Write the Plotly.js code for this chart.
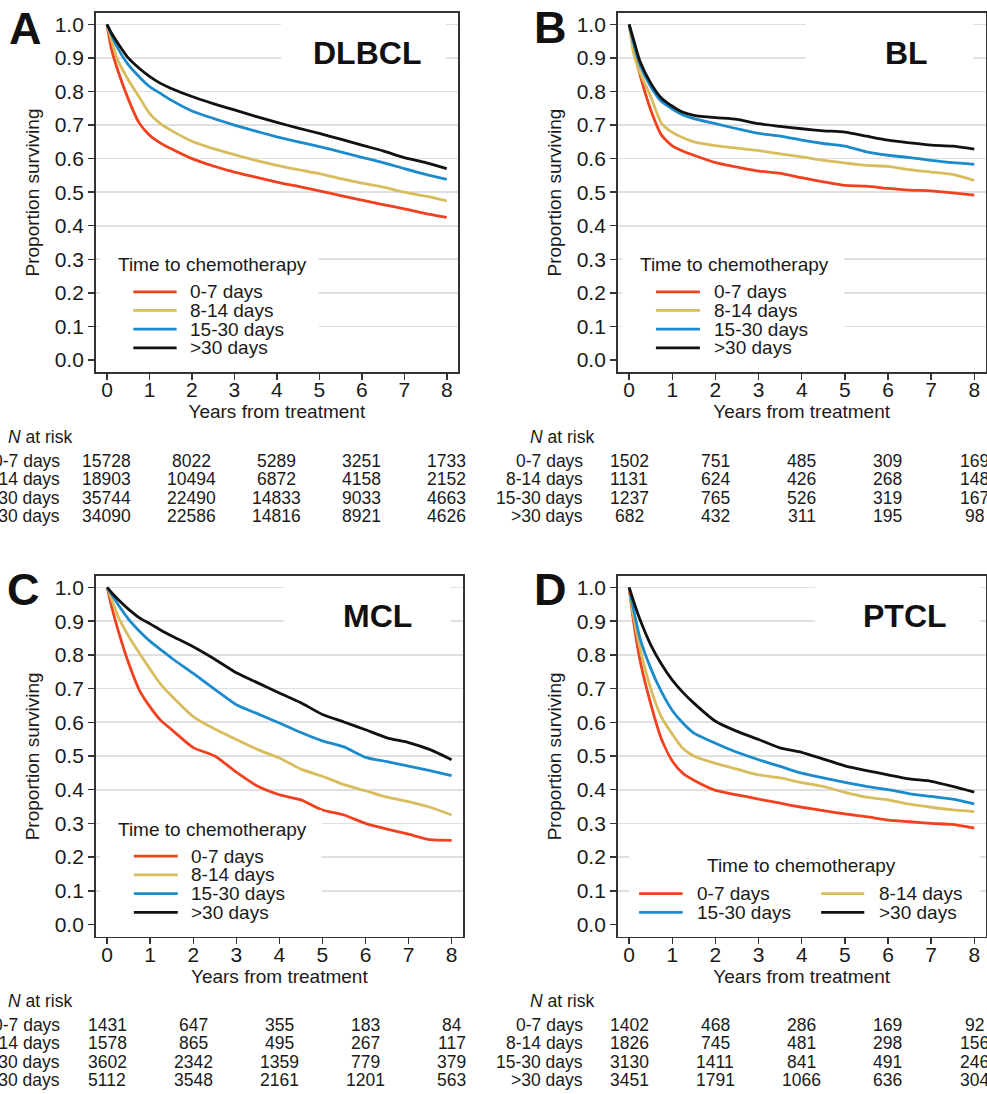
<!DOCTYPE html>
<html>
<head>
<meta charset="utf-8">
<script src="https://cdn.plot.ly/plotly-3.0.1.min.js"></script>
<style>
html, body { margin: 0; padding: 0; background: #ffffff; }
#chart { width: 987px; height: 1094px; }
</style>
</head>
<body>
<div id="chart"></div>
<script>
// ---------------- DATA ----------------
const years = [0, 0.1, 0.25, 0.5, 0.75, 1, 1.25, 1.5, 2, 2.5, 3, 3.5, 4, 4.5, 5, 5.5, 6, 6.5, 7, 7.5, 8];
const groupLabels = ['0-7 days', '8-14 days', '15-30 days', '>30 days'];
const riskYears = [0, 2, 4, 6, 8];

// A: DLBCL
const dlbcl_0to7   = [1, 0.93, 0.865, 0.778, 0.708, 0.670, 0.647, 0.630, 0.600, 0.578, 0.560, 0.545, 0.530, 0.517, 0.504, 0.490, 0.476, 0.463, 0.450, 0.436, 0.425];
const dlbcl_8to14  = [1, 0.955, 0.895, 0.835, 0.785, 0.735, 0.705, 0.685, 0.652, 0.630, 0.612, 0.595, 0.580, 0.567, 0.555, 0.540, 0.527, 0.515, 0.500, 0.488, 0.474];
const dlbcl_15to30 = [1, 0.97, 0.93, 0.88, 0.845, 0.815, 0.795, 0.775, 0.742, 0.720, 0.700, 0.682, 0.665, 0.650, 0.636, 0.620, 0.604, 0.588, 0.570, 0.553, 0.538];
const dlbcl_over30 = [1, 0.975, 0.945, 0.90, 0.870, 0.845, 0.825, 0.810, 0.785, 0.764, 0.745, 0.726, 0.708, 0.691, 0.675, 0.658, 0.640, 0.623, 0.603, 0.588, 0.570];
const dlbclRisk_0to7   = [15728, 8022, 5289, 3251, 1733];
const dlbclRisk_8to14  = [18903, 10494, 6872, 4158, 2152];
const dlbclRisk_15to30 = [35744, 22490, 14833, 9033, 4663];
const dlbclRisk_over30 = [34090, 22586, 14816, 8921, 4626];

// B: BL
const bl_0to7   = [1, 0.93, 0.85, 0.745, 0.67, 0.638, 0.622, 0.610, 0.588, 0.575, 0.563, 0.556, 0.543, 0.531, 0.520, 0.518, 0.511, 0.506, 0.504, 0.498, 0.491];
const bl_8to14  = [1, 0.915, 0.857, 0.785, 0.705, 0.678, 0.662, 0.650, 0.639, 0.631, 0.624, 0.614, 0.605, 0.595, 0.587, 0.580, 0.577, 0.567, 0.560, 0.553, 0.535];
const bl_15to30 = [1, 0.945, 0.88, 0.815, 0.77, 0.748, 0.730, 0.719, 0.704, 0.689, 0.675, 0.667, 0.655, 0.645, 0.637, 0.620, 0.610, 0.603, 0.595, 0.588, 0.583];
const bl_over30 = [1, 0.955, 0.89, 0.825, 0.78, 0.756, 0.738, 0.729, 0.722, 0.717, 0.704, 0.696, 0.689, 0.683, 0.679, 0.667, 0.655, 0.647, 0.640, 0.637, 0.628];
const blRisk_0to7   = [1502, 751, 485, 309, 169];
const blRisk_8to14  = [1131, 624, 426, 268, 148];
const blRisk_15to30 = [1237, 765, 526, 319, 167];
const blRisk_over30 = [682, 432, 311, 195, 98];

// C: MCL
const mcl_0to7   = [1, 0.945, 0.875, 0.775, 0.695, 0.645, 0.605, 0.578, 0.525, 0.500, 0.452, 0.410, 0.385, 0.370, 0.340, 0.325, 0.300, 0.283, 0.268, 0.252, 0.250];
const mcl_8to14  = [1, 0.965, 0.915, 0.855, 0.805, 0.757, 0.712, 0.678, 0.617, 0.580, 0.549, 0.519, 0.494, 0.461, 0.440, 0.415, 0.397, 0.378, 0.365, 0.348, 0.325];
const mcl_15to30 = [1, 0.98, 0.95, 0.905, 0.87, 0.840, 0.815, 0.790, 0.745, 0.698, 0.652, 0.625, 0.598, 0.570, 0.545, 0.527, 0.496, 0.483, 0.470, 0.457, 0.442];
const mcl_over30 = [1, 0.985, 0.965, 0.935, 0.91, 0.892, 0.873, 0.856, 0.824, 0.787, 0.747, 0.717, 0.687, 0.658, 0.623, 0.601, 0.578, 0.554, 0.540, 0.519, 0.489];
const mclRisk_0to7   = [1431, 647, 355, 183, 84];
const mclRisk_8to14  = [1578, 865, 495, 267, 117];
const mclRisk_15to30 = [3602, 2342, 1359, 779, 379];
const mclRisk_over30 = [5112, 3548, 2161, 1201, 563];

// D: PTCL
const ptcl_0to7   = [1, 0.90, 0.785, 0.655, 0.55, 0.485, 0.448, 0.428, 0.398, 0.385, 0.372, 0.360, 0.348, 0.338, 0.328, 0.320, 0.310, 0.305, 0.300, 0.297, 0.286];
const ptcl_8to14  = [1, 0.915, 0.82, 0.70, 0.615, 0.565, 0.522, 0.500, 0.478, 0.461, 0.444, 0.435, 0.421, 0.410, 0.392, 0.378, 0.370, 0.357, 0.348, 0.340, 0.335];
const ptcl_15to30 = [1, 0.935, 0.85, 0.76, 0.69, 0.635, 0.597, 0.568, 0.538, 0.511, 0.489, 0.469, 0.449, 0.435, 0.422, 0.410, 0.400, 0.388, 0.380, 0.372, 0.358];
const ptcl_over30 = [1, 0.96, 0.905, 0.83, 0.772, 0.725, 0.688, 0.657, 0.603, 0.573, 0.549, 0.524, 0.511, 0.491, 0.471, 0.457, 0.444, 0.432, 0.425, 0.410, 0.393];
const ptclRisk_0to7   = [1402, 468, 286, 169, 92];
const ptclRisk_8to14  = [1826, 745, 481, 298, 156];
const ptclRisk_15to30 = [3130, 1411, 841, 491, 246];
const ptclRisk_over30 = [3451, 1791, 1066, 636, 304];

// ---------------- STYLE / LAYOUT ----------------
const W = 987, H = 1094;
const FONT = 'Liberation Sans, Arial, Helvetica, sans-serif';
const TABLE_SIZE = 17.5;
const seriesColors = ['#f2411f', '#d9bc5d', '#1b8bcb', '#111111'];
const TXT = '#1a1a1a';
const XR = [-0.266, 8.265];

const panels = [
  { letter: 'A', name: 'DLBCL', surv: [dlbcl_0to7, dlbcl_8to14, dlbcl_15to30, dlbcl_over30],
    risk: [dlbclRisk_0to7, dlbclRisk_8to14, dlbclRisk_15to30, dlbclRisk_over30],
    frameX: [95.7, 458], frameY: [13, 372], letterPos: [25.5, 29], nameX: 6.13, nameY: 0.914,
    twoCol: false, tableTop: 437, rowRight: 62, nLeft: 6 },
  { letter: 'B', name: 'BL', surv: [bl_0to7, bl_8to14, bl_15to30, bl_over30],
    risk: [blRisk_0to7, blRisk_8to14, blRisk_15to30, blRisk_over30],
    frameX: [617.7, 985.7], frameY: [13, 372], letterPos: [550, 27], nameX: 6.44, nameY: 0.914,
    twoCol: false, tableTop: 437, rowRight: 585, nLeft: 528 },
  { letter: 'C', name: 'MCL', surv: [mcl_0to7, mcl_8to14, mcl_15to30, mcl_over30],
    risk: [mclRisk_0to7, mclRisk_8to14, mclRisk_15to30, mclRisk_over30],
    frameX: [95.7, 463], frameY: [576, 936.7], letterPos: [23, 589], nameX: 6.27, nameY: 0.915,
    twoCol: false, tableTop: 1001, rowRight: 62, nLeft: 6 },
  { letter: 'D', name: 'PTCL', surv: [ptcl_0to7, ptcl_8to14, ptcl_15to30, ptcl_over30],
    risk: [ptclRisk_0to7, ptclRisk_8to14, ptclRisk_15to30, ptclRisk_over30],
    frameX: [617.7, 985.7], frameY: [576, 936.7], letterPos: [550, 589], nameX: 6.39, nameY: 0.915,
    twoCol: true, tableTop: 1001, rowRight: 585, nLeft: 528 }
];

const traces = [];
const annotations = [];
const shapes = [];
const layout = {
  width: W, height: H,
  margin: { l: 0, r: 0, t: 0, b: 0 },
  paper_bgcolor: '#ffffff', plot_bgcolor: '#ffffff',
  font: { family: FONT, color: TXT },
  showlegend: false
};

panels.forEach((p, i) => {
  const sfx = i === 0 ? '' : String(i + 1);
  const xr = 'x' + sfx, yr = 'y' + sfx;
  // paper-x of an axis value (used for the risk table that lies below the axis)
  const xPaper = v => (p.frameX[0] + (v - XR[0]) / (XR[1] - XR[0]) * (p.frameX[1] - p.frameX[0])) / W;

  layout['xaxis' + sfx] = {
    domain: [p.frameX[0] / W, p.frameX[1] / W],
    range: XR,
    anchor: yr,
    tickmode: 'linear', tick0: 0, dtick: 1,
    ticks: 'outside', ticklen: 6, tickwidth: 1.5, tickcolor: '#333',
    ticklabelstandoff: -8,
    showgrid: false, zeroline: false,
    showline: true, mirror: true, linecolor: '#333', linewidth: 1.6,
    tickfont: { size: 21, color: TXT, family: FONT },
    title: { text: 'Years from treatment', font: { size: 19, color: TXT, family: FONT }, standoff: 3 },
    fixedrange: true
  };
  layout['yaxis' + sfx] = {
    domain: [1 - p.frameY[1] / H, 1 - p.frameY[0] / H],
    range: [-0.036, 1.034],
    anchor: xr,
    tickmode: 'linear', tick0: 0, dtick: 0.1, tickformat: '.1f',
    ticks: 'outside', ticklen: 6, tickwidth: 1.5, tickcolor: '#333',
    showgrid: true, gridcolor: '#e0e0e0', gridwidth: 1.6,
    zeroline: true, zerolinecolor: '#ffffff', zerolinewidth: 2,
    showline: true, mirror: true, linecolor: '#333', linewidth: 1.6,
    tickfont: { size: 21, color: TXT, family: FONT },
    title: { text: 'Proportion surviving', font: { size: 19, color: TXT, family: FONT }, standoff: 10 },
    fixedrange: true
  };

  // survival curves
  p.surv.forEach((s, g) => {
    traces.push({
      type: 'scatter', mode: 'lines', x: years, y: s, name: groupLabels[g],
      xaxis: xr, yaxis: yr,
      line: { color: seriesColors[g], width: 2.8, shape: 'spline', smoothing: 0.6 },
      hoverinfo: 'skip', showlegend: false
    });
  });

  // white boxes (gaps in gridlines behind title and legend)
  const legBox = p.twoCol ? [0.0, -0.01, 8.14, 0.25] : [-0.16, -0.01, 4.98, 0.34];
  const titleBox = p.twoCol ? [4.31, 0.85, 8.14, 1.02] : [4.1, 0.85, 7.98, 1.02];
  [legBox, titleBox].forEach(b => {
    shapes.push({ type: 'rect', xref: xr, yref: yr, x0: b[0], y0: b[1], x1: b[2], y1: b[3],
      fillcolor: '#ffffff', line: { width: 0 }, layer: 'above' });
  });

  // panel letter
  annotations.push({ xref: 'paper', yref: 'paper', x: p.letterPos[0] / W, y: 1 - p.letterPos[1] / H,
    xanchor: 'center', yanchor: 'middle', showarrow: false, text: '<b>' + p.letter + '</b>',
    font: { size: 45, family: FONT, color: '#111' } });
  // panel name
  annotations.push({ xref: xr, yref: yr, x: p.nameX, y: p.nameY, xanchor: 'center', yanchor: 'middle',
    showarrow: false, text: '<b>' + p.name + '</b>', font: { size: 32, family: FONT, color: '#111' } });

  // legend (drawn in axis units)
  if (!p.twoCol) {
    annotations.push({ xref: xr, yref: yr, x: 0.21, y: 0.283, xanchor: 'left', yanchor: 'middle',
      showarrow: false, text: 'Time to chemotherapy', font: { size: 19, family: FONT, color: TXT } });
    groupLabels.forEach((lab, g) => {
      const yy = 0.203 - g * 0.0556;
      shapes.push({ type: 'line', xref: xr, yref: yr, x0: 0.62, x1: 1.64, y0: yy, y1: yy,
        line: { color: seriesColors[g], width: 2.8 }, layer: 'above' });
      annotations.push({ xref: xr, yref: yr, x: 1.91, y: yy, xanchor: 'left', yanchor: 'middle',
        showarrow: false, text: lab, font: { size: 19, family: FONT, color: TXT } });
    });
  } else {
    annotations.push({ xref: xr, yref: yr, x: 4.0, y: 0.174, xanchor: 'center', yanchor: 'middle',
      showarrow: false, text: 'Time to chemotherapy', font: { size: 19, family: FONT, color: TXT } });
    const sx = [[0.23, 1.24], [4.45, 5.45]], tx = [1.52, 5.74];
    groupLabels.forEach((lab, g) => {
      const col = g % 2, row = Math.floor(g / 2);
      const yy = 0.092 - row * 0.056;
      shapes.push({ type: 'line', xref: xr, yref: yr, x0: sx[col][0], x1: sx[col][1], y0: yy, y1: yy,
        line: { color: seriesColors[g], width: 2.8 }, layer: 'above' });
      annotations.push({ xref: xr, yref: yr, x: tx[col], y: yy, xanchor: 'left', yanchor: 'middle',
        showarrow: false, text: lab, font: { size: 19, family: FONT, color: TXT } });
    });
  }

  // N at risk table (paper coordinates, columns aligned with the axis ticks)
  annotations.push({ xref: 'paper', yref: 'paper', x: p.nLeft / W, y: 1 - p.tableTop / H,
    xanchor: 'left', yanchor: 'middle', showarrow: false, text: '<i>N</i> at risk',
    font: { size: TABLE_SIZE, family: FONT, color: TXT } });
  groupLabels.forEach((lab, g) => {
    const yy = 1 - (p.tableTop + 24 + g * 18.4) / H;
    annotations.push({ xref: 'paper', yref: 'paper', x: p.rowRight / W, y: yy, xanchor: 'right', yanchor: 'middle',
      showarrow: false, text: lab, font: { size: TABLE_SIZE, family: FONT, color: TXT } });
    p.risk[g].forEach((n, j) => {
      annotations.push({ xref: 'paper', yref: 'paper', x: xPaper(riskYears[j]), y: yy,
        xanchor: 'center', yanchor: 'middle', showarrow: false, text: String(n),
        font: { size: TABLE_SIZE, family: FONT, color: TXT } });
    });
  });
});

layout.annotations = annotations;
layout.shapes = shapes;

Plotly.newPlot('chart', traces, layout, { staticPlot: true, displayModeBar: false });
</script>
</body>
</html>
